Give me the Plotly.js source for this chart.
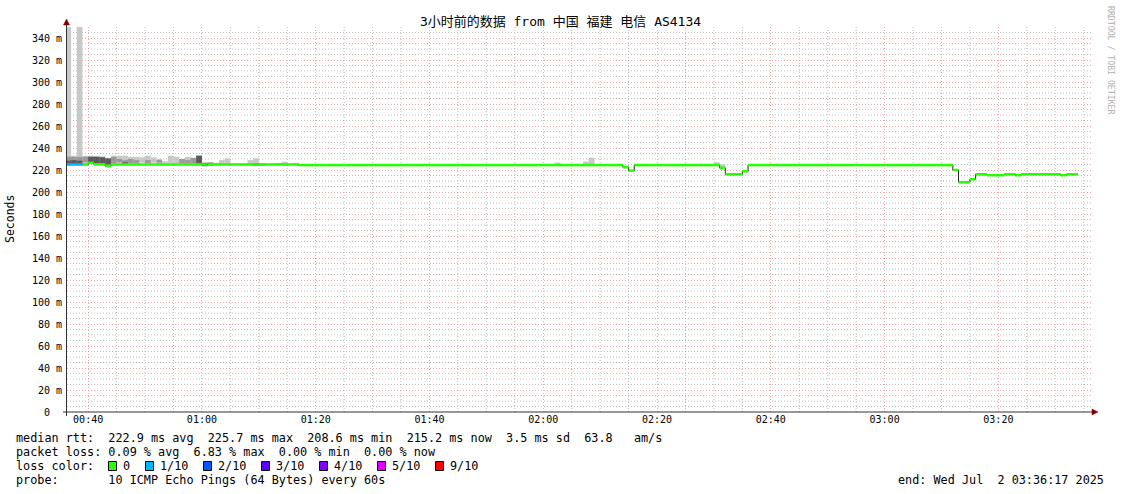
<!DOCTYPE html>
<html><head><meta charset="utf-8">
<script src="https://cdn.plot.ly/plotly-3.0.1.min.js"></script>
<style>html,body{margin:0;padding:0;background:#fff;}</style>
</head><body><div id="chart" style="width:1121px;height:494px;"></div>
<script>
// ---------------- data ----------------
const startTime = '2025-07-02 00:36';          // first 60 s sample
const rangeStart = '2025-07-02 00:36:17';
const rangeEnd = '2025-07-02 03:36:17';

// median rtt per minute sample (ms), 00:36 .. 03:33
const medianRtt = [
  225.0,225.0,225.0,225.0,226.5,225.0,225.0,223.6,225.0,225.0,
  225.0,225.0,225.0,225.0,225.0,225.0,225.0,225.0,225.0,225.0,
  225.0,225.0,225.0,225.0,225.0,225.0,225.0,225.0,225.0,225.0,
  225.0,225.0,225.0,225.0,225.0,225.0,225.0,225.0,225.0,225.0,
  225.0,224.5,224.5,224.5,224.5,224.5,224.5,224.5,224.5,224.5,
  224.5,224.5,224.5,224.5,224.5,224.5,224.5,224.5,224.5,224.5,
  224.5,224.5,224.5,224.5,224.5,224.5,224.5,224.5,224.5,224.5,
  224.5,224.5,224.5,224.5,224.5,224.5,224.5,224.5,224.5,224.5,
  224.5,224.5,224.5,224.5,224.5,224.5,224.5,224.5,224.5,224.5,
  224.5,224.5,224.5,224.5,224.5,224.5,224.5,224.5,222.5,219.4,
  224.5,224.5,224.5,224.5,224.5,224.5,224.5,224.5,224.5,224.5,
  224.5,224.5,224.5,224.5,224.5,221.9,216.1,216.1,216.1,218.8,
  224.5,224.5,224.5,224.5,224.5,224.5,224.5,224.5,224.5,224.5,
  224.5,224.5,224.5,224.5,224.5,224.5,224.5,224.5,224.5,224.5,
  224.5,224.5,224.5,224.5,224.5,224.5,224.5,224.5,224.5,224.5,
  224.5,224.5,224.5,224.5,224.5,224.5,220.0,208.8,208.8,211.6,
  216.1,216.1,215.3,215.3,215.3,216.1,216.1,215.3,216.1,216.1,
  216.1,216.1,216.1,216.1,216.1,215.3,216.1,216.1
];
// lost pings out of 10 per sample
const lossTenths = [
  1,1,1,0,0,0,0,0,0,0, 0,0,0,0,0,0,0,0,0,0, 0,0,0,0,0,0,0,0,0,0,
  0,0,0,0,0,0,0,0,0,0, 0,0,0,0,0,0,0,0,0,0, 0,0,0,0,0,0,0,0,0,0,
  0,0,0,0,0,0,0,0,0,0, 0,0,0,0,0,0,0,0,0,0, 0,0,0,0,0,0,0,0,0,0,
  0,0,0,0,0,0,0,0,0,0, 0,0,0,0,0,0,0,0,0,0, 0,0,0,0,0,0,0,0,0,0,
  0,0,0,0,0,0,0,0,0,0, 0,0,0,0,0,0,0,0,0,0, 0,0,0,0,0,0,0,0,0,0,
  0,0,0,0,0,0,0,0,0,0, 0,0,0,0,0,0,0,0,0,0, 0,0,0,0,0,0,0,0
];

// smoke (ping spread) for samples where it is visible
const smokeTime = ['00:36','00:37','00:38','00:39','00:40','00:41','00:42','00:43','00:44','00:45',
  '00:46','00:47','00:48','00:49','00:50','00:51','00:52','00:53','00:54','00:55',
  '00:56','00:57','00:58','00:59','01:00','01:01','01:02','01:03','01:04','01:08',
  '01:09','01:10','01:13','01:14','01:16','02:02','02:07','02:08','02:30','02:31'];
const smokeMin = [224,225,224,226,226,226,226,225,226,226, 226,226,226,226.6,226,226.6,226,226,226,226,
  226,226,226,226,223.5,224,225,225,225,225, 224,224,225,225,225,225,225,225,225,222];
const smokeMax = [360,233,360,233,233,232.5,232.5,231,233,233, 233,232,232,231.5,233,231.5,230,228,233,232,
  230,232,231,233,226.5,227,226.5,229,230.6,229, 230.6,226,226.5,227.5,226.5,226.7,227.6,231.2,227,225.2];
const smokeMidLo = [228,229,228,227,226,226,226,225,226,227, 226,226,226,null,226,null,226.6,null,null,null,
  226,226,226,226,223.5,224,null,null,null,null, null,224,null,null,null,null,null,null,null,null];
const smokeMidHi = [232,232,232,232,232,232,231.5,230.5,232,230, 229,230,229,null,229,null,229,null,null,null,
  230,229,231,233,226.5,227,null,null,null,null, null,226,null,null,null,null,null,null,null,null];
const smokeCoreLo = [225.5,225,225.5,null,227,226,226,225,null,null, 225,null,null,null,null,null,null,null,null,null,
  null,null,null,226,223.5,null,null,null,null,null, 224,null,null,null,null,null,null,null,null,null];
const smokeCoreHi = [228.5,229,228.5,null,232,232,231.5,230.5,null,null, 227,null,null,null,null,null,null,null,null,null,
  null,null,null,233,226.5,null,null,null,null,null, 226,null,null,null,null,null,null,null,null,null];

const yTickVals = [0,20,40,60,80,100,120,140,160,180,200,220,240,260,280,300,320,340];
const yTickText = ['0\u00a0\u00a0','20 m','40 m','60 m','80 m','100 m','120 m','140 m','160 m','180 m',
  '200 m','220 m','240 m','260 m','280 m','300 m','320 m','340 m'];

const lossLevels = [0,1,2,3,4,5,9];
const lossLabels = ['0','1/10','2/10','3/10','4/10','5/10','9/10'];
const lossColors = ['#26ff00','#00b8ff','#0059ff','#5e00ff','#7e00ff','#dd00ff','#ff0000'];

const legendLines = [
  'median rtt:  222.9 ms avg  225.7 ms max  208.6 ms min  215.2 ms now  3.5 ms sd  63.8   am/s',
  'packet loss: 0.09 % avg  6.83 % max  0.00 % min  0.00 % now',
  'loss color:',
  'probe:       10 ICMP Echo Pings (64 Bytes) every 60s'
];
const endLabel = 'end: Wed Jul  2 03:36:17 2025';
const titleText = '3小时前的数据 from 中国 福建 电信 AS4134';

// ---------------- helpers ----------------
const MONO = '"DejaVu Sans Mono", "Noto Sans CJK SC", monospace';
function minuteStamp(base, k) {
  const [d, hm] = base.split(' ');
  const [h, m] = hm.split(':').map(Number);
  const tot = h * 60 + m + k;
  return d + ' ' + String(Math.floor(tot / 60)).padStart(2, '0') + ':' + String(tot % 60).padStart(2, '0') + ':00';
}
function hhmm(s) { return '2025-07-02 ' + s + ':00'; }
const nbsp = s => s.replace(/ /g, '\u00a0');

const traces = [];
function smokeLayer(lo, hi, color) {
  traces.push({
    type: 'bar', x: smokeTime.map(hhmm),
    base: lo, y: lo.map((v, i) => v == null ? null : hi[i] - v),
    width: 60000, offset: 0,
    marker: { color: color, line: { width: 0 } },
    hoverinfo: 'skip'
  });
}
smokeLayer(smokeMin, smokeMax, '#c8c8c8');
smokeLayer(smokeMidLo, smokeMidHi, '#9a9a9a');
smokeLayer(smokeCoreLo, smokeCoreHi, '#5a5a5a');

const n = medianRtt.length;
const tx = [], ty = [];
for (let k = 0; k < n; k++) { tx.push(minuteStamp(startTime, k)); ty.push(medianRtt[k]); }
tx.push(minuteStamp(startTime, n)); ty.push(medianRtt[n - 1]);
traces.push({ type: 'scatter', mode: 'lines', x: tx, y: ty, line: { shape: 'hv', color: '#202020', width: 1 }, hoverinfo: 'skip' });

lossLevels.forEach((lv, li) => {
  const sx = [], sy = [];
  for (let k = 0; k < n; k++) {
    if (lossTenths[k] !== lv) continue;
    sx.push(minuteStamp(startTime, k), minuteStamp(startTime, k + 1), null);
    sy.push(medianRtt[k], medianRtt[k], null);
  }
  if (sx.length) traces.push({ type: 'scatter', mode: 'lines', x: sx, y: sy, line: { color: lossColors[li], width: 2.6 }, hoverinfo: 'skip' });
});

// ---------------- layout ----------------
const L = 67, R = 1091, T = 27, B = 412;
const px2x = px => (px - L) / (R - L);
const py2y = py => (B - py) / (B - T);

const annotations = [];
function text(px, py, s, o) {
  annotations.push(Object.assign({
    xref: 'paper', yref: 'paper', x: px2x(px), y: py2y(py), text: nbsp(s), showarrow: false,
    xanchor: 'left', yanchor: 'middle', borderpad: 0, borderwidth: 0,
    font: { family: MONO, size: 11.8, color: '#000' }
  }, o || {}));
}
const rowY = [438, 452, 466, 480];
legendLines.forEach((s, i) => text(16, rowY[i], s));
text(1104, 480, endLabel, { xanchor: 'right' });
text(10, 219, 'Seconds', { xanchor: 'center', textangle: -90, font: { family: MONO, size: 11.5, color: '#000' } });
text(1111, 60, 'RRDTOOL / TOBI OETIKER', { xanchor: 'center', textangle: 90, font: { family: MONO, size: 8.2, color: '#b0b0b0' } });

const shapes = [];
// minor grid (every 5 min / every 5 ms), dotted grey, below traces
const MINOR = { color: 'rgba(150,150,150,0.6)', width: 1, dash: '1px,2px' };
for (let k = 0; k * 5 <= 180; k++) {
  if (k % 4 === 0) continue;
  const t = minuteStamp('2025-07-02 00:40', k * 5);
  if (t > rangeEnd) break;
  shapes.push({ type: 'line', layer: 'below', xref: 'x', yref: 'paper', x0: t, x1: t, y0: 0, y1: 1, line: MINOR });
}
for (let v = 5; v < 350; v += 5) {
  if (v % 20 === 0) continue;
  shapes.push({ type: 'line', layer: 'below', xref: 'paper', yref: 'y', x0: 0, x1: 1, y0: v, y1: v, line: MINOR });
}
const sqX = [108, 145, 203, 261, 319, 377, 435];
lossLabels.forEach((lab, i) => {
  shapes.push({ type: 'rect', xref: 'paper', yref: 'paper', x0: px2x(sqX[i] + 0.5), x1: px2x(sqX[i] + 8.5), y0: py2y(470.5), y1: py2y(461.5),
    fillcolor: lossColors[i], line: { color: '#000', width: 1 } });
  text(sqX[i] + 15, 466, lab);
});
shapes.push({ type: 'line', xref: 'paper', yref: 'paper', xsizemode: 'pixel', ysizemode: 'pixel', xanchor: 0, yanchor: 0,
  x0: -0.5, x1: -0.5, y0: -4, y1: 390, line: { color: '#333', width: 1 } });
shapes.push({ type: 'line', xref: 'paper', yref: 'paper', xsizemode: 'pixel', ysizemode: 'pixel', xanchor: 0, yanchor: 0,
  x0: -4, x1: 1028, y0: 0, y1: 0, line: { color: '#333', width: 1 } });
shapes.push({ type: 'path', xref: 'paper', yref: 'paper', xsizemode: 'pixel', ysizemode: 'pixel', xanchor: 0, yanchor: 1,
  path: 'M -3.5,2 L -0.5,8 L 2.5,2 Z', fillcolor: '#7f0000', line: { color: '#7f0000', width: 0.5 } });
shapes.push({ type: 'path', xref: 'paper', yref: 'paper', xsizemode: 'pixel', ysizemode: 'pixel', xanchor: 1, yanchor: 0,
  path: 'M 1,-3 L 7,0 L 1,3 Z', fillcolor: '#7f0000', line: { color: '#7f0000', width: 0.5 } });

const MAJOR = 'rgba(230,110,110,0.6)';
const layout = {
  width: 1121, height: 494,
  margin: { l: L, r: 1121 - R, t: T, b: 494 - B, pad: 0 },
  paper_bgcolor: '#fff', plot_bgcolor: '#fff',
  font: { family: MONO, color: '#000', size: 10 },
  showlegend: false, barmode: 'overlay',
  title: { text: titleText, x: 0.5, xref: 'container', xanchor: 'center', y: 1 - 21 / 494, yref: 'container', yanchor: 'middle',
    font: { family: MONO, size: 13, color: '#000' } },
  xaxis: {
    type: 'date', range: [rangeStart, rangeEnd], tickmode: 'linear', tick0: '2025-07-02 00:40:00', dtick: 1200000,
    tickformat: '%H:%M', showgrid: true, gridcolor: MAJOR, griddash: '1px,2px', gridwidth: 1,
    zeroline: false, showline: false, ticks: '', ticklen: 0, tickfont: { family: MONO, size: 10, color: '#000' }, fixedrange: true
  },
  yaxis: {
    range: [0, 350], tickmode: 'array', tickvals: yTickVals, ticktext: yTickText,
    showgrid: true, gridcolor: MAJOR, griddash: '1px,2px', gridwidth: 1,
    zeroline: false, showline: false, ticks: '', ticklen: 0, ticklabelstandoff: 4,
    tickfont: { family: MONO, size: 10, color: '#000' }, fixedrange: true
  },
  annotations: annotations, shapes: shapes
};

Plotly.newPlot('chart', traces, layout, { displayModeBar: false, staticPlot: true });
</script></body></html>
